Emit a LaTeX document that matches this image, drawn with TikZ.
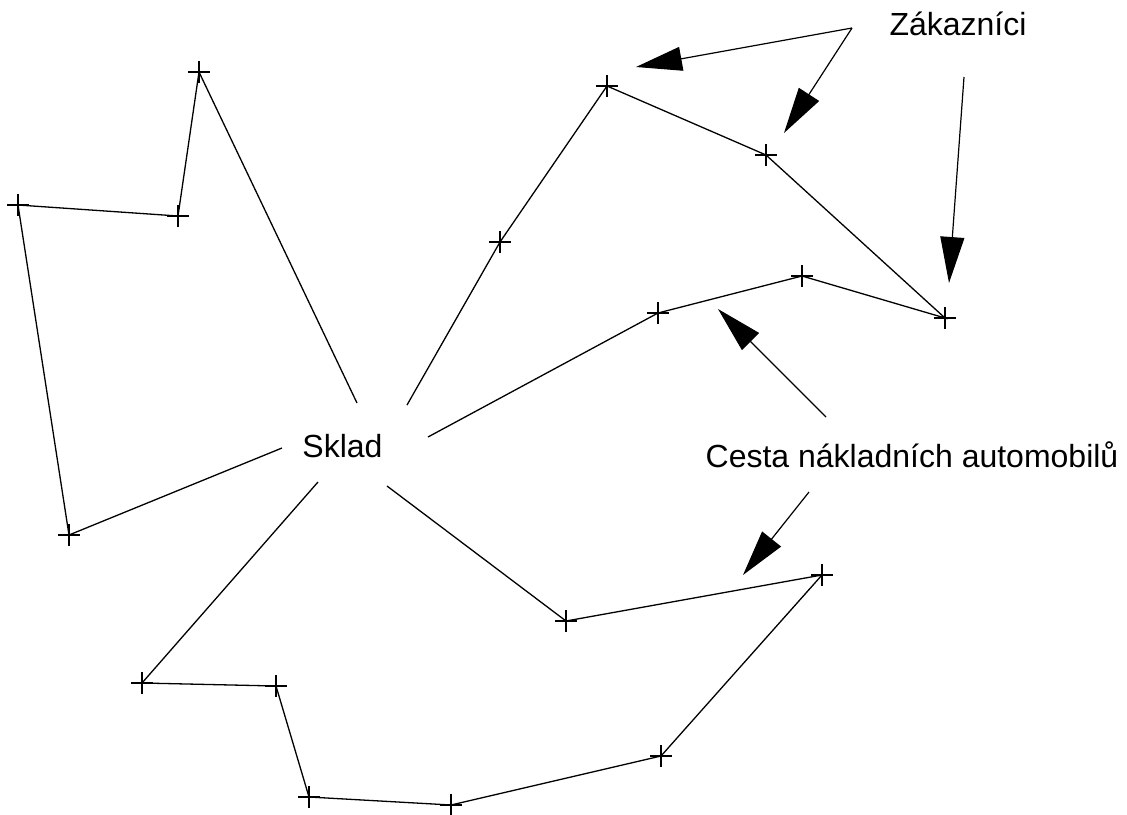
\documentclass[tikz,border=0pt]{standalone}
\usepackage{fontspec}
\setmainfont{Liberation Sans}
\usetikzlibrary{shapes.misc,arrows.meta}
\tikzset{
  cust/.style={draw, cross out, rotate=45, minimum size=14pt, inner sep=0pt, line width=1.1pt},
  route/.style={line width=1.3pt},
  pointer/.style={line width=1.2pt, -{Triangle[length=46pt,width=24pt]}},
  label/.style={font=\fontsize{32}{38}\selectfont, anchor=base, inner sep=0pt}
}
\begin{document}
\begin{tikzpicture}[x=1pt,y=-1pt]
\useasboundingbox[fill=white] (0,0) rectangle (1127,814);
% depot
\node[label] (sklad) at (342.5,457) {Sklad};
\coordinate (s1) at (357,403);
\coordinate (s2) at (407,405);
\coordinate (s3) at (428,437);
\coordinate (s4) at (282,448);
\coordinate (s5) at (318,482);
\coordinate (s6) at (387,486);
% customers
\node[cust] (a1) at (199,72) {};
\node[cust] (a2) at (178,216) {};
\node[cust] (a3) at (18,205) {};
\node[cust] (a4) at (69,535) {};
\node[cust] (b1) at (500,242) {};
\node[cust] (b2) at (607,86) {};
\node[cust] (b3) at (766,155) {};
\node[cust] (b4) at (945,318) {};
\node[cust] (c2) at (802,276) {};
\node[cust] (c1) at (658,313) {};
\node[cust] (d1) at (566,621) {};
\node[cust] (d2) at (822,575) {};
\node[cust] (d3) at (661,756) {};
\node[cust] (d4) at (451,805) {};
\node[cust] (d5) at (309,797) {};
\node[cust] (d6) at (276,686) {};
\node[cust] (d7) at (142,683) {};
% routes
\draw[route] (s1) -- (a1.center) -- (a2.center) -- (a3.center) -- (a4.center) -- (s4);
\draw[route] (s2) -- (b1.center) -- (b2.center) -- (b3.center) -- (b4.center) -- (c2.center) -- (c1.center) -- (s3);
\draw[route] (s6) -- (d1.center) -- (d2.center) -- (d3.center) -- (d4.center) -- (d5.center) -- (d6.center) -- (d7.center) -- (s5);
% labels
\node[label] (zak) at (958,35) {Zákazníci};
\node[label] (cesta) at (912,467) {Cesta nákladních automobilů};
% pointer arrows
\coordinate (z0) at (852,28);
\coordinate (z1) at (636,67);
\coordinate (z2) at (784,133);
\coordinate (z3s) at (964,77);
\coordinate (z3) at (949,283);
\coordinate (c0) at (826,417);
\coordinate (ct1) at (718,309);
\coordinate (c0b) at (809,492);
\coordinate (ct2) at (743,575);
\draw[pointer] (z0) -- (z1);
\draw[pointer] (z0) -- (z2);
\draw[pointer] (z3s) -- (z3);
\draw[pointer] (c0) -- (ct1);
\draw[pointer] (c0b) -- (ct2);
\end{tikzpicture}
\end{document}
